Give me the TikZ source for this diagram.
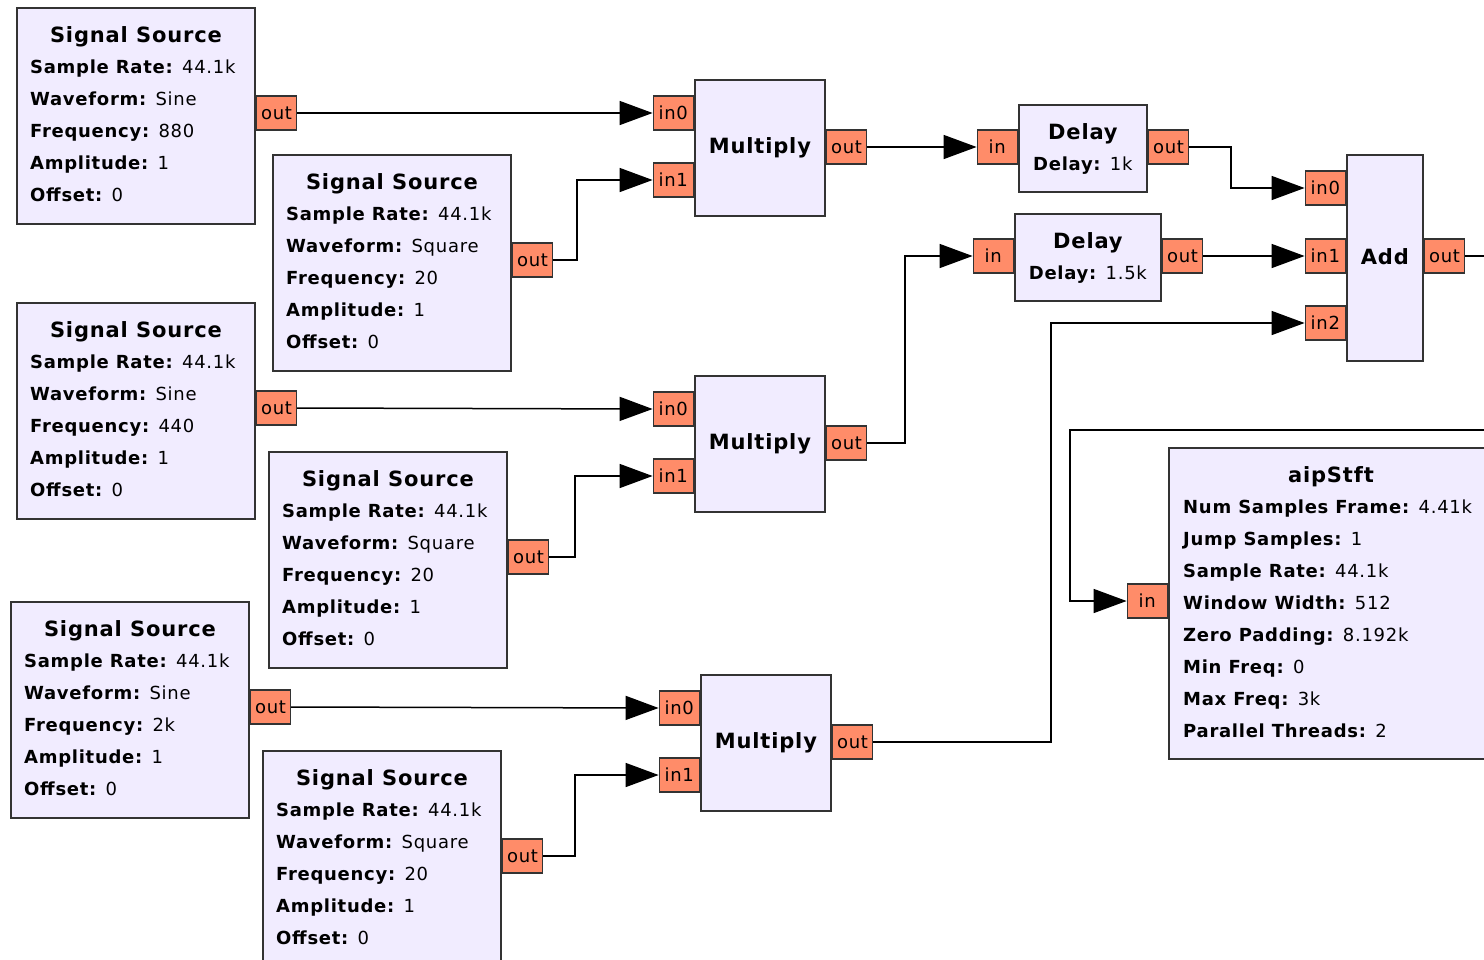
\documentclass[tikz,border=0pt]{standalone}
\usepackage{fontspec}
\setmainfont{DejaVu Sans}
\newfontfamily\rowfont[LetterSpace=4]{DejaVu Sans}
\newfontfamily\headfont[LetterSpace=4]{DejaVu Sans}
\usetikzlibrary{arrows.meta,calc}

\definecolor{blockfill}{HTML}{F1ECFF}
\definecolor{portfill}{HTML}{FF8C69}
\definecolor{edgegray}{HTML}{333333}

\tikzset{
  blockbox/.style={draw=edgegray, line width=1.8pt, fill=blockfill, inner sep=0pt, anchor=north west},
  port/.style={draw=edgegray, line width=1.4pt, fill=portfill, minimum width=40pt, minimum height=34pt,
               inner sep=0pt, font=\rowfont\fontsize{18}{20}\selectfont},
  conn/.style={line width=1.5pt, -{Triangle[length=33pt,width=24pt]}},
  head/.style={font=\headfont\bfseries\fontsize{21}{24}\selectfont, anchor=base, inner sep=0pt},
  row/.style={font=\rowfont\fontsize{18}{20}\selectfont, anchor=base west, inner sep=0pt},
}

% Signal source block: name, x, y (top left), waveform, frequency
\newcommand\sigsrc[5]{%
  \node[blockbox, minimum width=238pt, minimum height=216pt] (#1) at (#2,#3) {};
  \node[head] (#1-t) at ($(#1.north)+(0,35)$) {Signal Source};
  \node[row] (#1-r1) at ($(#1.north west)+(14,66)$)  {\textbf{Sample Rate:} 44.1k};
  \node[row] (#1-r2) at ($(#1.north west)+(14,98)$)  {\textbf{Waveform:} #4};
  \node[row] (#1-r3) at ($(#1.north west)+(14,130)$) {\textbf{Frequency:} #5};
  \node[row] (#1-r4) at ($(#1.north west)+(14,162)$) {\textbf{Amplitude:} 1};
  \node[row] (#1-r5) at ($(#1.north west)+(14,194)$) {\textbf{Offset:} 0};
  \node[port, anchor=west] (#1-o) at ($(#1.north east)+(0,106)$) {out};
}

% Multiply block: name, x, y (top left)
\newcommand\mulblk[3]{%
  \node[blockbox, minimum width=130pt, minimum height=136pt] (#1) at (#2,#3) {};
  \node[head] (#1-t) at ($(#1.center)+(0,6)$) {Multiply};
  \node[port, anchor=east] (#1-i0) at ($(#1.north west)+(0,34)$) {in0};
  \node[port, anchor=east] (#1-i1) at ($(#1.north west)+(0,101)$) {in1};
  \node[port, anchor=west] (#1-o) at ($(#1.north east)+(0,68)$) {out};
}

% Delay block: name, x, y (top left), width, delay
\newcommand\delblk[5]{%
  \node[blockbox, minimum width=#4pt, minimum height=87pt] (#1) at (#2,#3) {};
  \node[head] (#1-t) at ($(#1.north)+(0,35)$) {Delay};
  \node[row, anchor=base] (#1-r1) at ($(#1.north)+(0,66)$) {\textbf{Delay:} #5};
  \node[port, anchor=east] (#1-i) at ($(#1.north west)+(0,43)$) {in};
  \node[port, anchor=west] (#1-o) at ($(#1.north east)+(0,43)$) {out};
}

\begin{document}
\begin{tikzpicture}[x=1pt, y=-1pt]
\useasboundingbox (0,0) rectangle (1484,959);
\clip (0,0) rectangle (1484,959);

% sources
\sigsrc{s1}{16}{7}{Sine}{880}
\sigsrc{s2}{272}{154}{Square}{20}
\sigsrc{s3}{16}{302}{Sine}{440}
\sigsrc{s4}{268}{451}{Square}{20}
\sigsrc{s5}{10}{601}{Sine}{2k}
\sigsrc{s6}{262}{750}{Square}{20}

% multipliers
\mulblk{m1}{694}{79}
\mulblk{m2}{694}{375}
\mulblk{m3}{700}{674}

% delays
\delblk{d1}{1018}{104}{128}{1k}
\delblk{d2}{1014}{213}{146}{1.5k}

% adder
\node[blockbox, minimum width=76pt, minimum height=206pt] (a) at (1346,154) {};
\node[head] (a-t) at ($(a.north)+(0,110)$) {Add};
\node[port, anchor=east] (a-i0) at ($(a.north west)+(0,34)$) {in0};
\node[port, anchor=east] (a-i1) at ($(a.north west)+(0,102)$) {in1};
\node[port, anchor=east] (a-i2) at ($(a.north west)+(0,169)$) {in2};
\node[port, anchor=west] (a-o) at ($(a.north east)+(0,102)$) {out};

% STFT sink
\node[blockbox, minimum width=324pt, minimum height=311pt] (st) at (1168,447) {};
\node[head] (st-t) at ($(st.north)+(0,35)$) {aipStft};
\node[row] (st-r1) at ($(st.north west)+(15,66)$)  {\textbf{Num Samples Frame:} 4.41k};
\node[row] (st-r2) at ($(st.north west)+(15,98)$)  {\textbf{Jump Samples:} 1};
\node[row] (st-r3) at ($(st.north west)+(15,130)$) {\textbf{Sample Rate:} 44.1k};
\node[row] (st-r4) at ($(st.north west)+(15,162)$) {\textbf{Window Width:} 512};
\node[row] (st-r5) at ($(st.north west)+(15,194)$) {\textbf{Zero Padding:} 8.192k};
\node[row] (st-r6) at ($(st.north west)+(15,226)$) {\textbf{Min Freq:} 0};
\node[row] (st-r7) at ($(st.north west)+(15,258)$) {\textbf{Max Freq:} 3k};
\node[row] (st-r8) at ($(st.north west)+(15,290)$) {\textbf{Parallel Threads:} 2};
\node[port, anchor=east] (st-i) at ($(st.north west)+(0,154)$) {in};

% connections
\draw[conn] (s1-o.east) -- (m1-i0.west);
\draw[conn] (s2-o.east) -- ++(24,0) |- (m1-i1.west);
\draw[conn] (s3-o.east) -- (m2-i0.west);
\draw[conn] (s4-o.east) -- ++(26,0) |- (m2-i1.west);
\draw[conn] (s5-o.east) -- (m3-i0.west);
\draw[conn] (s6-o.east) -- ++(32,0) |- (m3-i1.west);
\draw[conn] (m1-o.east) -- (d1-i.west);
\draw[conn] (m2-o.east) -- ++(38,0) |- (d2-i.west);
\draw[conn] (m3-o.east) -- ++(178,0) |- (a-i2.west);
\draw[conn] (d1-o.east) -- ++(42,0) |- (a-i0.west);
\draw[conn] (d2-o.east) -- (a-i1.west);
\coordinate (loop) at (1070,430);
\draw[conn] (a-o.east) -- ++(40,0) |- (loop) |- (st-i.west);
\end{tikzpicture}
\end{document}
